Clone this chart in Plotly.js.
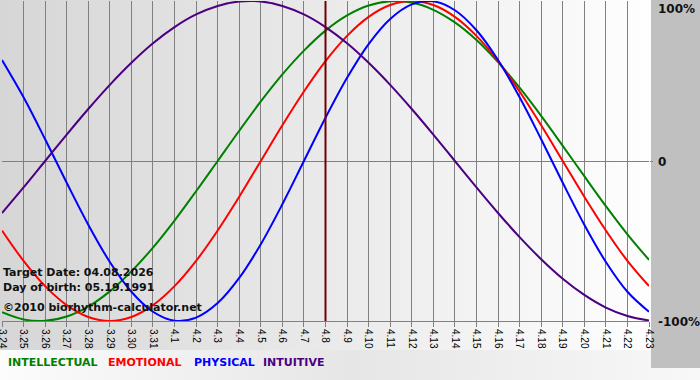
<!DOCTYPE html>
<html>
<head>
<meta charset="utf-8">
<script src="https://cdn.plot.ly/plotly-3.0.1.min.js"></script>
<style>
  html, body { margin: 0; padding: 0; background: #ffffff; }
  #chart {
    width: 700px; height: 380px; position: relative;
    background:
      linear-gradient(#c0c0c0, #c0c0c0) 651px 0 / 49px 368px no-repeat,
      linear-gradient(to right, #d6d6d6, #fefefe) 0 0 / 651px 350px no-repeat,
      linear-gradient(to right, #fcfcfc, #e6e6e6 50%, #f8f8f8) 0 350px / 700px 30px no-repeat,
      #f8f8f8;
  }
</style>
</head>
<body>
<div id="chart"></div>
<script>
// ---- data ----
const dateLabels = ['3.24','3.25','3.26','3.27','3.28','3.29','3.30','3.31',
  '4.1','4.2','4.3','4.4','4.5','4.6','4.7','4.8','4.9','4.10','4.11','4.12',
  '4.13','4.14','4.15','4.16','4.17','4.18','4.19','4.20','4.21','4.22','4.23'];

const intellectual = [-94.5,-99.0,-99.9,-97.2,-91.0,-81.5,-69.0,-54.1,-37.2,-18.9,
  0,18.9,37.2,54.1,69.0,81.5,91.0,97.2,99.9,99.0,94.5,86.6,75.6,61.8,45.8,28.2,9.5,
  -9.5,-28.2,-45.8,-61.8];
const emotional = [-43.4,-62.4,-78.2,-90.1,-97.5,-100,-97.5,-90.1,-78.2,-62.4,
  -43.4,-22.3,0,22.3,43.4,62.4,78.2,90.1,97.5,100,97.5,90.1,78.2,62.4,43.4,22.3,0,
  -22.3,-43.4,-62.4,-78.2];
const physical = [63.1,39.8,13.6,-13.6,-39.8,-63.1,-81.7,-94.2,-99.8,-97.9,
  -88.8,-73.1,-52.0,-27.0,0,27.0,52.0,73.1,88.8,97.9,99.8,94.2,81.7,63.1,39.8,13.6,
  -13.6,-39.8,-63.1,-81.7,-94.2];
const intuitive = [-32.5,-16.5,0,16.5,32.5,47.6,61.4,73.6,83.7,91.6,
  96.9,99.7,99.7,96.9,91.6,83.7,73.6,61.4,47.6,32.5,16.5,0,-16.5,-32.5,-47.6,-61.4,
  -73.6,-83.7,-91.6,-96.9,-99.7];

const seriesNames = ['INTELLECTUAL','EMOTIONAL','PHYSICAL','INTUITIVE'];
const seriesColors = ['#008000','#ff0000','#0000ff','#4b0082'];
const seriesValues = [intellectual, emotional, physical, intuitive];

const yTickVals = [100, 0, -100];
const yTickText = ['100%', '0', '-100%'];

const targetLabel = '4.8';
const infoLines = ['Target Date: 04.08.2026', 'Day of birth: 05.19.1991', '\u00a92010 biorhythm-calculator.net'];

// ---- layout geometry (pixels) ----
const W = 700, H = 380, L = 2, R = 51, T = 1, B = 59;
const pw = W - L - R, ph = H - T - B;
const px2x = p => (p - L) / pw;
const py2y = p => 1 - (p - T) / ph;

const traces = seriesValues.map((vals, i) => ({
  type: 'scatter', mode: 'lines',
  x: dateLabels, y: vals, name: seriesNames[i],
  line: { color: seriesColors[i], width: 2, shape: 'spline', smoothing: 1 },
  hoverinfo: 'skip'
}));

const boldFont = { family: 'DejaVu Sans', size: 11, color: '#111111', weight: 'bold' };

const annotations = [];
// info text
const infoY = [272, 287, 307];
infoLines.forEach((t, i) => annotations.push({
  text: '<b>' + t + '</b>', xref: 'paper', yref: 'paper',
  x: px2x(1), y: py2y(infoY[i]), xanchor: 'left', yanchor: 'middle',
  showarrow: false, font: boldFont
}));
// legend text
const legendX = [6, 106, 192, 261];
seriesNames.forEach((n, i) => annotations.push({
  text: '<b>' + n + '</b>', xref: 'paper', yref: 'paper',
  x: px2x(legendX[i]), y: py2y(362), xanchor: 'left', yanchor: 'middle',
  showarrow: false, font: Object.assign({}, boldFont, { color: seriesColors[i] })
}));
// y labels on the right
yTickVals.forEach((v, i) => annotations.push({
  text: '<b>' + yTickText[i] + '</b>', xref: 'paper', yref: 'y',
  x: px2x(656), y: v, xanchor: 'left',
  yanchor: i === 0 ? 'top' : 'middle', yshift: i === 0 ? 1 : -1,
  showarrow: false, font: { family: 'DejaVu Sans', size: 12, color: '#111111', weight: 'bold' }
}));

const layout = {
  width: W, height: H,
  margin: { l: L, r: R, t: T, b: B, pad: 0 },
  paper_bgcolor: 'rgba(0,0,0,0)', plot_bgcolor: 'rgba(0,0,0,0)',
  showlegend: false,
  xaxis: {
    type: 'category', categoryorder: 'array', categoryarray: dateLabels,
    range: [0, dateLabels.length - 1], fixedrange: true,
    showgrid: true, gridcolor: '#808080', gridwidth: 1,
    showline: true, linecolor: '#808080', linewidth: 1,
    ticks: 'outside', ticklen: 5, tickcolor: '#808080', tickwidth: 1,
    tickangle: 90, tickfont: { family: 'Liberation Sans', size: 10, color: '#000000' },
    zeroline: false, automargin: false
  },
  yaxis: {
    range: [-100, 100], fixedrange: true, side: 'right',
    showgrid: false, zeroline: true, zerolinecolor: '#808080', zerolinewidth: 1,
    tickvals: [0], ticks: 'outside', ticklen: 3, tickcolor: '#808080',
    showticklabels: false, showline: false, automargin: false
  },
  shapes: [{
    type: 'line', xref: 'x', yref: 'paper',
    x0: dateLabels.indexOf(targetLabel), x1: dateLabels.indexOf(targetLabel),
    y0: 0, y1: 1, line: { color: '#700000', width: 2 }, layer: 'above'
  }],
  annotations: annotations
};

Plotly.newPlot('chart', traces, layout, { staticPlot: true, displayModeBar: false });
</script>
</body>
</html>
